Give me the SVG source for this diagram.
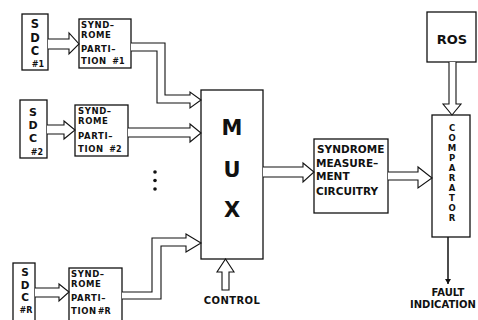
<svg xmlns="http://www.w3.org/2000/svg" width="478" height="320" viewBox="0 0 478 320">
<style>
.box{fill:#fff;stroke:#111;stroke-width:1.3}
.pipe{fill:#fff;stroke:#111;stroke-width:1.1;stroke-linejoin:miter}
text{font-family:"DejaVu Sans","Liberation Sans",sans-serif;font-weight:bold;fill:#111}
.big{text-anchor:middle}
.sm{font-size:8.5px;letter-spacing:0.6px}
.num{font-size:8px;letter-spacing:0}
.mux{font-size:21px;text-anchor:middle}
.cmp{font-size:8.5px;text-anchor:middle}
.lbl{font-size:10px}
.sml{font-size:10.5px}
</style>
<defs>
<marker id="ah" markerWidth="6" markerHeight="8" refX="5" refY="4" orient="auto" markerUnits="userSpaceOnUse">
<path d="M0,1 L5,4 L0,7 Z" fill="#111"/>
</marker>
</defs>

<g id="sdc1">
<rect class="box" x="22" y="14" width="26" height="56"/>
<text class="big" x="35" y="28" style="font-size:11.5px">S</text>
<text class="big" x="35" y="41.5" style="font-size:11.5px">D</text>
<text class="big" x="35" y="55" style="font-size:11.5px">C</text>
<text class="num" x="38" y="67" text-anchor="middle">#1</text>
</g>
<g id="sp1">
<rect class="box" x="79" y="19" width="52" height="49"/>
<text class="sm" x="81" y="27.5">SYND–</text>
<text class="sm" x="81" y="37.5">ROME</text>
<text class="sm" x="81" y="51.5">PARTI–</text>
<text class="sm" x="81" y="64">TION <tspan class="num" dx="2">#1</tspan></text>
</g>

<g id="sdc2">
<rect class="box" x="20" y="100" width="27" height="58"/>
<text class="big" x="33" y="116" style="font-size:11px">S</text>
<text class="big" x="33" y="129" style="font-size:11px">D</text>
<text class="big" x="33" y="142" style="font-size:11px">C</text>
<text class="num" x="37" y="155" text-anchor="middle">#2</text>
</g>
<g id="sp2">
<rect class="box" x="75" y="105" width="53" height="51"/>
<text class="sm" x="78" y="114">SYND–</text>
<text class="sm" x="78" y="124">ROME</text>
<text class="sm" x="78" y="139">PARTI–</text>
<text class="sm" x="78" y="152">TION <tspan class="num" dx="2">#2</tspan></text>
</g>

<g id="sdcR">
<rect class="box" x="13" y="263" width="22" height="60"/>
<text class="big" x="25" y="276" style="font-size:10.5px">S</text>
<text class="big" x="25" y="288.5" style="font-size:10.5px">D</text>
<text class="big" x="25" y="301" style="font-size:10.5px">C</text>
<text class="num" x="26" y="313" text-anchor="middle">#R</text>
</g>
<g id="spR">
<rect class="box" x="69" y="268" width="53" height="55"/>
<text class="sm" x="71" y="277">SYND–</text>
<text class="sm" x="71" y="287">ROME</text>
<text class="sm" x="71" y="301">PARTI–</text>
<text class="sm" x="71" y="314">TION<tspan class="num" dx="1">#R</tspan></text>
</g>

<g id="dots">
<circle cx="155" cy="172" r="1.8" fill="#111"/>
<circle cx="155" cy="180.5" r="1.8" fill="#111"/>
<circle cx="155" cy="189" r="1.8" fill="#111"/>
</g>

<g id="mux">
<rect class="box" x="201" y="90" width="62" height="169"/>
<text class="mux" x="232" y="135">M</text>
<text class="mux" x="232" y="177">U</text>
<text class="mux" x="232" y="217">X</text>
</g>

<g id="control">
<text class="lbl" x="232" y="304" text-anchor="middle" style="letter-spacing:0.4px">CONTROL</text>
</g>

<g id="sm">
<rect class="box" x="314" y="139" width="74" height="74"/>
<text class="sml" x="317" y="153">SYNDROME</text>
<text class="sml" x="316" y="167">MEASURE–</text>
<text class="sml" x="316" y="180">MENT</text>
<text class="sml" x="316" y="195">CIRCUITRY</text>
</g>

<g id="ros">
<rect class="box" x="427" y="12" width="49" height="50"/>
<text x="452" y="44" style="font-size:13px" text-anchor="middle">ROS</text>
</g>

<g id="comparator">
<rect class="box" x="432" y="115" width="38" height="122"/>
<text class="cmp" x="452" y="131">C</text>
<text class="cmp" x="452" y="141">O</text>
<text class="cmp" x="452" y="151">M</text>
<text class="cmp" x="452" y="161">P</text>
<text class="cmp" x="452" y="171">A</text>
<text class="cmp" x="452" y="181">R</text>
<text class="cmp" x="452" y="191">A</text>
<text class="cmp" x="452" y="201">T</text>
<text class="cmp" x="452" y="211">O</text>
<text class="cmp" x="452" y="221">R</text>
</g>

<g id="fault">
<text class="lbl" x="448" y="296" text-anchor="middle">FAULT</text>
<text class="lbl" x="410" y="308">INDICATION</text>
</g>

<g id="connectors">
<path class="pipe" d="M48,39 L69,39 L69,33 L79,44 L69,54 L69,49 L48,49"/>
<path class="pipe" d="M47,125 L64,125 L64,121 L75,130 L64,139 L64,134 L47,134"/>
<path class="pipe" d="M35,288 L59,288 L59,284 L69,292 L59,301 L59,297 L35,297"/>
<path class="pipe" d="M131,43 L165,43 L165,95 L190,95 L190,92 L201,100 L190,108 L190,103 L157,103 L157,51 L131,51"/>
<path class="pipe" d="M128,128 L190,128 L190,124 L201,133 L190,142 L190,137 L128,137"/>
<path class="pipe" d="M122,292 L152,292 L152,238 L186,238 L186,234 L201,243 L186,252 L186,246 L161,246 L161,299 L122,299"/>
<path class="pipe" d="M222,290 L222,272 L217,272 L225.5,259 L234,272 L229,272 L229,290 Z"/>
<path class="pipe" d="M263,167 L303,167 L303,163 L314,172 L303,182 L303,177 L263,177"/>
<path class="pipe" d="M388,172 L418,172 L418,167 L432,178 L418,188 L418,180 L388,180"/>
<path class="pipe" d="M449,62 L449,104 L443,104 L452,115 L461,104 L456,104 L456,62"/>
<line x1="448" y1="237" x2="448" y2="284" stroke="#111" stroke-width="1.5" marker-end="url(#ah)"/>
</g>
</svg>
